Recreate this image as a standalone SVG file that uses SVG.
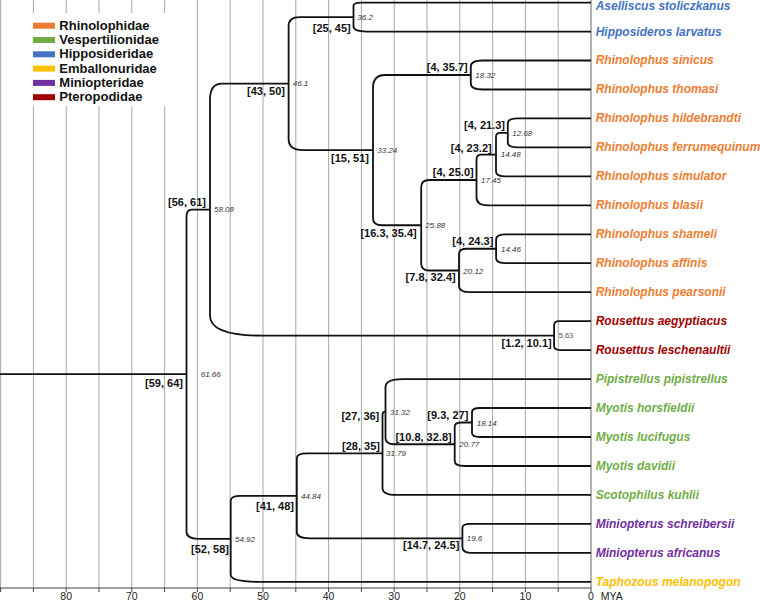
<svg xmlns="http://www.w3.org/2000/svg" width="760" height="609" viewBox="0 0 760 609">
<style>
.grid{stroke:#a8a8a8;stroke-width:1;fill:none}
.axis{stroke:#444;stroke-width:1;fill:none}
.br{stroke:#111;stroke-width:1.8;fill:none;stroke-linejoin:round}
.tip{font-family:"Liberation Sans",Arial,sans-serif;font-size:12px;font-weight:bold;font-style:italic}
.leg{font-family:"Liberation Sans",Arial,sans-serif;font-size:13px;font-weight:bold;fill:#111}
.ci{font-family:"Liberation Sans",Arial,sans-serif;font-size:11px;font-weight:bold;fill:#111;text-anchor:end}
.age{font-family:"Liberation Sans",Arial,sans-serif;font-size:8px;font-style:italic;fill:#333}
.ax{font-family:"Liberation Sans",Arial,sans-serif;font-size:10.5px;fill:#222;text-anchor:middle}
.rhi{fill:#ED7D31}.ves{fill:#70AD47}.hip{fill:#4472C4}.emb{fill:#FFC000}.min{fill:#7030A0}.pte{fill:#A00000}
</style>
<rect width="760" height="609" fill="#fff"/>
<g id="grid">
<path class="grid" d="M0.6,0V588 M33.4,0V588 M66.2,0V588 M99,0V588 M131.8,0V588 M164.6,0V588 M197.4,0V588 M230.2,0V588 M263,0V588 M295.8,0V588 M328.6,0V588 M361.4,0V588 M394.2,0V588 M427,0V588 M459.8,0V588 M492.6,0V588 M525.4,0V588 M558.2,0V588"/>
<path d="M591,0V588" stroke="#666" stroke-width="1"/>
</g>
<g id="axis">
<path class="axis" d="M0,588H591 M0.6,588v4 M33.4,588v4 M66.2,588v4 M99,588v4 M131.8,588v4 M164.6,588v4 M197.4,588v4 M230.2,588v4 M263,588v4 M295.8,588v4 M328.6,588v4 M361.4,588v4 M394.2,588v4 M427,588v4 M459.8,588v4 M492.6,588v4 M525.4,588v4 M558.2,588v4 M591,588v4"/>
<text class="ax" x="66.2" y="600">80</text>
<text class="ax" x="131.8" y="600">70</text>
<text class="ax" x="197.4" y="600">60</text>
<text class="ax" x="263" y="600">50</text>
<text class="ax" x="328.6" y="600">40</text>
<text class="ax" x="394.2" y="600">30</text>
<text class="ax" x="459.8" y="600">20</text>
<text class="ax" x="525.4" y="600">10</text>
<text class="ax" x="591" y="600">0</text>
<text class="ax" x="600.7" y="600" style="text-anchor:start">MYA</text>
</g>
<g id="legend">
<rect x="20" y="13" width="155" height="93" fill="#fff"/>
<rect class="rhi" x="33" y="22.7" width="22" height="6"/>
<rect class="ves" x="33" y="37" width="22" height="6"/>
<rect class="hip" x="33" y="51.3" width="22" height="6"/>
<rect class="emb" x="33" y="65.6" width="22" height="6"/>
<rect class="min" x="33" y="79.9" width="22" height="6"/>
<rect class="pte" x="33" y="94.2" width="22" height="6"/>
<text class="leg" x="59.3" y="29.7">Rhinolophidae</text>
<text class="leg" x="59.3" y="44">Vespertilionidae</text>
<text class="leg" x="59.3" y="58.3">Hipposideridae</text>
<text class="leg" x="59.3" y="72.6">Emballonuridae</text>
<text class="leg" x="59.3" y="86.9">Miniopteridae</text>
<text class="leg" x="59.3" y="101.2">Pteropodidae</text>
</g>
<g id="connectors">
<path class="br" d="M0,374.2H186.5"/>
<path class="br" d="M591,2.6H361.5Q353.5,2.6 353.5,5.6V26.6Q353.5,31.6 366.5,31.6H591"/>
<path class="br" d="M591,60.5H482.8Q470.8,60.5 470.8,66.5V83.5Q470.8,89.5 482.8,89.5H591"/>
<path class="br" d="M591,118.4H517.8Q507.8,118.4 507.8,123.4V142.4Q507.8,147.4 517.8,147.4H591"/>
<path class="br" d="M507.8,132.9H500Q496,132.9 496,136.9V171.4Q496,176.4 506,176.4H591"/>
<path class="br" d="M496,154.65H481.5Q476.5,154.65 476.5,159.65V197.3Q476.5,205.3 487.5,205.3H591"/>
<path class="br" d="M591,234.3H506.1Q496.1,234.3 496.1,239.3V258.2Q496.1,263.2 506.1,263.2H591"/>
<path class="br" d="M496.1,248.75H467Q459,248.75 459,253.75V286.2Q459,292.2 470,292.2H591"/>
<path class="br" d="M476.5,180H429.2Q421.2,180 421.2,187V263.5Q421.2,270.5 429.2,270.5H459"/>
<path class="br" d="M470.8,75H385Q373,75 373,88V218.25Q373,225.25 382,225.25H421.2"/>
<path class="br" d="M353.5,17.1H299.6Q288.6,17.1 288.6,26.1V139.1Q288.6,150.1 302.6,150.1H373"/>
<path class="br" d="M591,321.2H559.1Q554.1,321.2 554.1,325.2V346.1Q554.1,350.1 560.1,350.1H591"/>
<path class="br" d="M288.6,83.6H222Q210,83.6 210,99.6V315.65Q210,335.65 263,335.65H554.1"/>
<path class="br" d="M210,209.6H191.5Q186.5,209.6 186.5,216.6V531.8Q186.5,538.8 198.5,538.8H230.7"/>
<path class="br" d="M591,408H480Q472,408 472,412V433Q472,437 480,437H591"/>
<path class="br" d="M472,422.5H461.7Q454.7,422.5 454.7,426.5V461Q454.7,466 464.7,466H591"/>
<path class="br" d="M591,379.1H402.5Q385.5,379.1 385.5,387.1V438.25Q385.5,444.25 394.5,444.25H454.7"/>
<path class="br" d="M385.5,411.7H385.5Q382.5,411.7 382.5,414.7V487.9Q382.5,494.9 396.5,494.9H591"/>
<path class="br" d="M591,523.9H470.4Q462.4,523.9 462.4,527.9V546.8Q462.4,552.8 470.4,552.8H591"/>
<path class="br" d="M382.5,453.3H306.8Q296.8,453.3 296.8,458.3V532.35Q296.8,538.35 309.8,538.35H462.4"/>
<path class="br" d="M296.8,495.8H240.7Q230.7,495.8 230.7,500.8V574.8Q230.7,581.8 258.7,581.8H591"/>
</g>
<g id="nodes">
<g id="n36_2"><text class="ci" x="350.7" y="32">[25, 45]</text><text class="age" x="357.3" y="20.2">36.2</text></g>
<g id="n46_1"><text class="ci" x="285" y="94.7">[43, 50]</text><text class="age" x="292.7" y="86.2">46.1</text></g>
<g id="n18_32"><text class="ci" x="467.7" y="71.3">[4, 35.7]</text><text class="age" x="475.3" y="77.6">18.32</text></g>
<g id="n33_24"><text class="ci" x="369" y="162.3">[15, 51]</text><text class="age" x="377.3" y="152.9">33.24</text></g>
<g id="n12_68"><text class="ci" x="505" y="129">[4, 21.3]</text><text class="age" x="512.3" y="135.6">12.68</text></g>
<g id="n14_48"><text class="ci" x="491.7" y="152.3">[4, 23.2]</text><text class="age" x="500.7" y="157.2">14.48</text></g>
<g id="n17_45"><text class="ci" x="473.7" y="176.3">[4, 25.0]</text><text class="age" x="481" y="182.9">17.45</text></g>
<g id="n25_88"><text class="ci" x="416.7" y="236.7">[16.3, 35.4]</text><text class="age" x="425.3" y="227.9">25.88</text></g>
<g id="n14_46"><text class="ci" x="493.3" y="245.3">[4, 24.3]</text><text class="age" x="501" y="251.6">14.46</text></g>
<g id="n20_12"><text class="ci" x="455.7" y="281.3">[7.8, 32.4]</text><text class="age" x="463.3" y="273.6">20.12</text></g>
<g id="n5_63"><text class="ci" x="551.7" y="347.3">[1.2, 10.1]</text><text class="age" x="558.7" y="338" style="font-style:normal;fill:#555;font-size:7.5px">5.63</text></g>
<g id="n58_08"><text class="ci" x="206" y="205.7">[56, 61]</text><text class="age" x="214" y="212.2">58.08</text></g>
<g id="n61_66"><text class="ci" x="183" y="387">[59, 64]</text><text class="age" x="200.7" y="376.9">61.66</text></g>
<g id="n31_32"><text class="ci" x="379.3" y="420">[27, 36]</text><text class="age" x="390" y="414.6">31.32</text></g>
<g id="n18_14"><text class="ci" x="468.3" y="419">[9.3, 27]</text><text class="age" x="476.7" y="425.6">18.14</text></g>
<g id="n20_77"><text class="ci" x="451.7" y="440.7">[10.8, 32.8]</text><text class="age" x="459.3" y="446.9">20.77</text></g>
<g id="n31_79"><text class="ci" x="380" y="450">[28, 35]</text><text class="age" x="386" y="455.6">31.79</text></g>
<g id="n44_84"><text class="ci" x="294" y="510">[41, 48]</text><text class="age" x="301" y="498.9">44.84</text></g>
<g id="n54_92"><text class="ci" x="229" y="553">[52, 58]</text><text class="age" x="235" y="541.9">54.92</text></g>
<g id="n19_6"><text class="ci" x="459.3" y="549.3">[14.7, 24.5]</text><text class="age" x="466.7" y="541.2">19.6</text></g>
</g>
<g id="tips">
<text id="t0" class="tip hip" x="595.7" y="9.8">Aselliscus stoliczkanus</text>
<text id="t1" class="tip hip" x="595.7" y="35.5">Hipposideros larvatus</text>
<text id="t2" class="tip rhi" x="595.7" y="64.4">Rhinolophus sinicus</text>
<text id="t3" class="tip rhi" x="595.7" y="93.4">Rhinolophus thomasi</text>
<text id="t4" class="tip rhi" x="595.7" y="122.3">Rhinolophus hildebrandti</text>
<text id="t5" class="tip rhi" x="595.7" y="151.3">Rhinolophus ferrumequinum</text>
<text id="t6" class="tip rhi" x="595.7" y="180.3">Rhinolophus simulator</text>
<text id="t7" class="tip rhi" x="595.7" y="209.2">Rhinolophus blasii</text>
<text id="t8" class="tip rhi" x="595.7" y="238.2">Rhinolophus shameli</text>
<text id="t9" class="tip rhi" x="595.7" y="267.1">Rhinolophus affinis</text>
<text id="t10" class="tip rhi" x="595.7" y="296.1">Rhinolophus pearsonii</text>
<text id="t11" class="tip pte" x="595.7" y="325.1">Rousettus aegyptiacus</text>
<text id="t12" class="tip pte" x="595.7" y="354">Rousettus leschenaultii</text>
<text id="t13" class="tip ves" x="595.7" y="383">Pipistrellus pipistrellus</text>
<text id="t14" class="tip ves" x="595.7" y="411.9">Myotis horsfieldii</text>
<text id="t15" class="tip ves" x="595.7" y="440.9">Myotis lucifugus</text>
<text id="t16" class="tip ves" x="595.7" y="469.9">Myotis davidii</text>
<text id="t17" class="tip ves" x="595.7" y="498.8">Scotophilus kuhlii</text>
<text id="t18" class="tip min" x="595.7" y="527.8">Miniopterus schreibersii</text>
<text id="t19" class="tip min" x="595.7" y="556.7">Miniopterus africanus</text>
<text id="t20" class="tip emb" x="595.7" y="585.7">Taphozous melanopogon</text>
</g>
</svg>
